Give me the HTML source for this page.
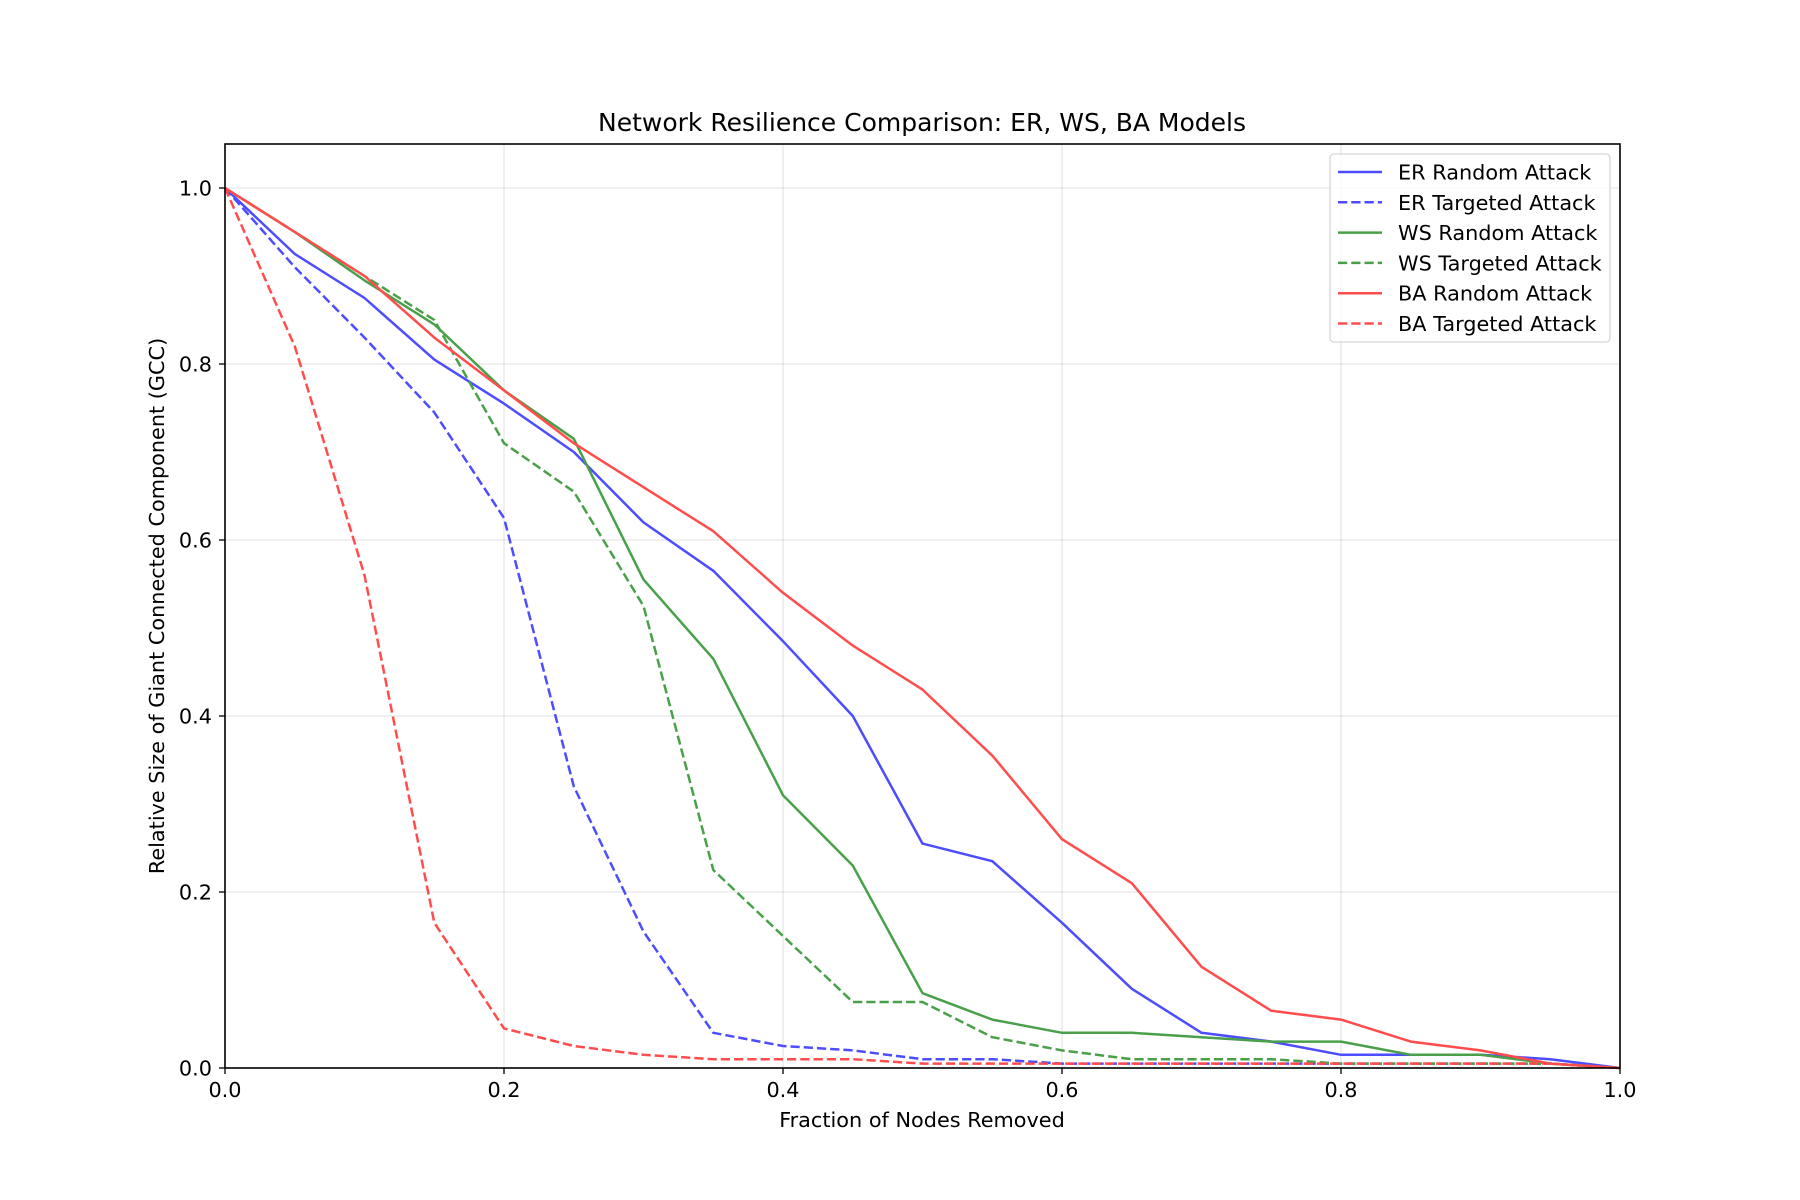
<!DOCTYPE html>
<html><head><meta charset="utf-8"><style>
body{margin:0;background:#fff}
svg{display:block;font-family:"DejaVu Sans","Liberation Sans",sans-serif}
</style></head><body>
<svg id="chart" width="1800" height="1200" viewBox="0 0 1800 1200">
<rect width="1800" height="1200" fill="#fff"/>
<g id="grid"></g>
<g id="series"></g>
<rect x="225" y="144" width="1395" height="924" fill="none" stroke="#000" stroke-width="1.6"/>
<g id="ticks"></g>
<text x="922" y="131" font-size="25" text-anchor="middle">Network Resilience Comparison: ER, WS, BA Models</text>
<text x="922" y="1127" font-size="20.8" text-anchor="middle">Fraction of Nodes Removed</text>
<text transform="translate(164,606) rotate(-90)" font-size="20.8" text-anchor="middle">Relative Size of Giant Connected Component (GCC)</text>
<g id="legend"></g>
</svg>
<script>
const xValues=[0,0.05,0.1,0.15,0.2,0.25,0.3,0.35,0.4,0.45,0.5,0.55,0.6,0.65,0.7,0.75,0.8,0.85,0.9,0.95,1.0];
const erRandom=[1.0,0.925,0.875,0.805,0.755,0.70,0.62,0.565,0.485,0.40,0.255,0.235,0.165,0.09,0.04,0.03,0.015,0.015,0.015,0.01,0.0];
const erTargeted=[1.0,0.91,0.83,0.745,0.625,0.32,0.155,0.04,0.025,0.02,0.01,0.01,0.005,0.005,0.005,0.005,0.005,0.005,0.005,0.005,0.0];
const wsRandom=[1.0,0.95,0.895,0.845,0.77,0.715,0.555,0.465,0.31,0.23,0.085,0.055,0.04,0.04,0.035,0.03,0.03,0.015,0.015,0.005,0.0];
const wsTargeted=[1.0,0.95,0.9,0.85,0.71,0.655,0.525,0.225,0.15,0.075,0.075,0.035,0.02,0.01,0.01,0.01,0.005,0.005,0.005,0.005,0.0];
const baRandom=[1.0,0.95,0.9,0.83,0.77,0.71,0.66,0.61,0.54,0.48,0.43,0.355,0.26,0.21,0.115,0.065,0.055,0.03,0.02,0.005,0.0];
const baTargeted=[1.0,0.82,0.56,0.165,0.045,0.025,0.015,0.01,0.01,0.01,0.005,0.005,0.005,0.005,0.005,0.005,0.005,0.005,0.005,0.005,0.0];
const xTicks=[0,0.2,0.4,0.6,0.8,1.0];
const xTickLabels=["0.0","0.2","0.4","0.6","0.8","1.0"];
const yTicks=[0,0.2,0.4,0.6,0.8,1.0];
const yTickLabels=["0.0","0.2","0.4","0.6","0.8","1.0"];
const seriesNames=["ER Random Attack","ER Targeted Attack","WS Random Attack","WS Targeted Attack","BA Random Attack","BA Targeted Attack"];

const NS="http://www.w3.org/2000/svg";
const X0=225,X1=1620,Y0=1068,Y1=144,YMAX=1.05;
function sx(v){return X0+(X1-X0)*v;}
function sy(v){return Y0-(Y0-Y1)*v/YMAX;}
function mk(tag,attrs,parent){const e=document.createElementNS(NS,tag);for(const k in attrs)e.setAttribute(k,attrs[k]);parent.appendChild(e);return e;}
const grid=document.getElementById('grid'),ticks=document.getElementById('ticks'),series=document.getElementById('series'),legend=document.getElementById('legend');
xTicks.forEach((t,i)=>{
  const g=mk('line',{x1:sx(t),x2:sx(t),y1:Y1,y2:Y0,stroke:'#b0b0b0','stroke-opacity':0.3,'stroke-width':1.3},grid);
  
  
  const tk=mk('line',{x1:sx(t),x2:sx(t),y1:Y0,y2:Y0+6,stroke:'#000','stroke-width':1.3},ticks);
  
  
  const tl=mk('text',{x:sx(t),y:Y0+29,'font-size':20.8,'text-anchor':'middle'},ticks);
  tl.textContent=xTickLabels[i];
  
  
});
yTicks.forEach((t,i)=>{
  const g=mk('line',{x1:X0,x2:X1,y1:sy(t),y2:sy(t),stroke:'#b0b0b0','stroke-opacity':0.3,'stroke-width':1.3},grid);
  
  
  const tk=mk('line',{x1:X0-6,x2:X0,y1:sy(t),y2:sy(t),stroke:'#000','stroke-width':1.3},ticks);
  
  
  const tl=mk('text',{x:X0-13,y:sy(t)+7.5,'font-size':20.8,'text-anchor':'end'},ticks);
  tl.textContent=yTickLabels[i];
  
  
});
const seriesData=[erRandom,erTargeted,wsRandom,wsTargeted,baRandom,baTargeted];
const colors=['#4d4dff','#4d4dff','#4aa04a','#4aa04a','#ff4d4d','#ff4d4d'];
const dashed=[false,true,false,true,false,true];
const seriesIds=['er-random-line','er-targeted-line','ws-random-line','ws-targeted-line','ba-random-line','ba-targeted-line'];
seriesData.forEach((d,i)=>{
  const pts=d.map((v,j)=>sx(xValues[j]).toFixed(1)+','+sy(v).toFixed(1)).join(' ');
  const p=mk('polyline',{points:pts,fill:'none',stroke:colors[i],'stroke-width':2.5,'stroke-linejoin':'round'},series);
  if(dashed[i])p.setAttribute('stroke-dasharray','9.25 4');
  
  
});
const lb=mk('rect',{x:1330,y:154,width:280,height:188,rx:4,fill:'#fff','fill-opacity':0.8,stroke:'#d6d6d6','stroke-width':1.3},legend);


seriesNames.forEach((n,i)=>{
  const y=172+i*30.3;
  const l=mk('line',{x1:1338,x2:1382,y1:y,y2:y,stroke:colors[i],'stroke-width':2.5},legend);
  if(dashed[i])l.setAttribute('stroke-dasharray','9.25 4');
  
  
  const t=mk('text',{x:1398,y:y+7.5,'font-size':20.8},legend);
  t.textContent=n;
  
  
});
</script>
</body></html>
